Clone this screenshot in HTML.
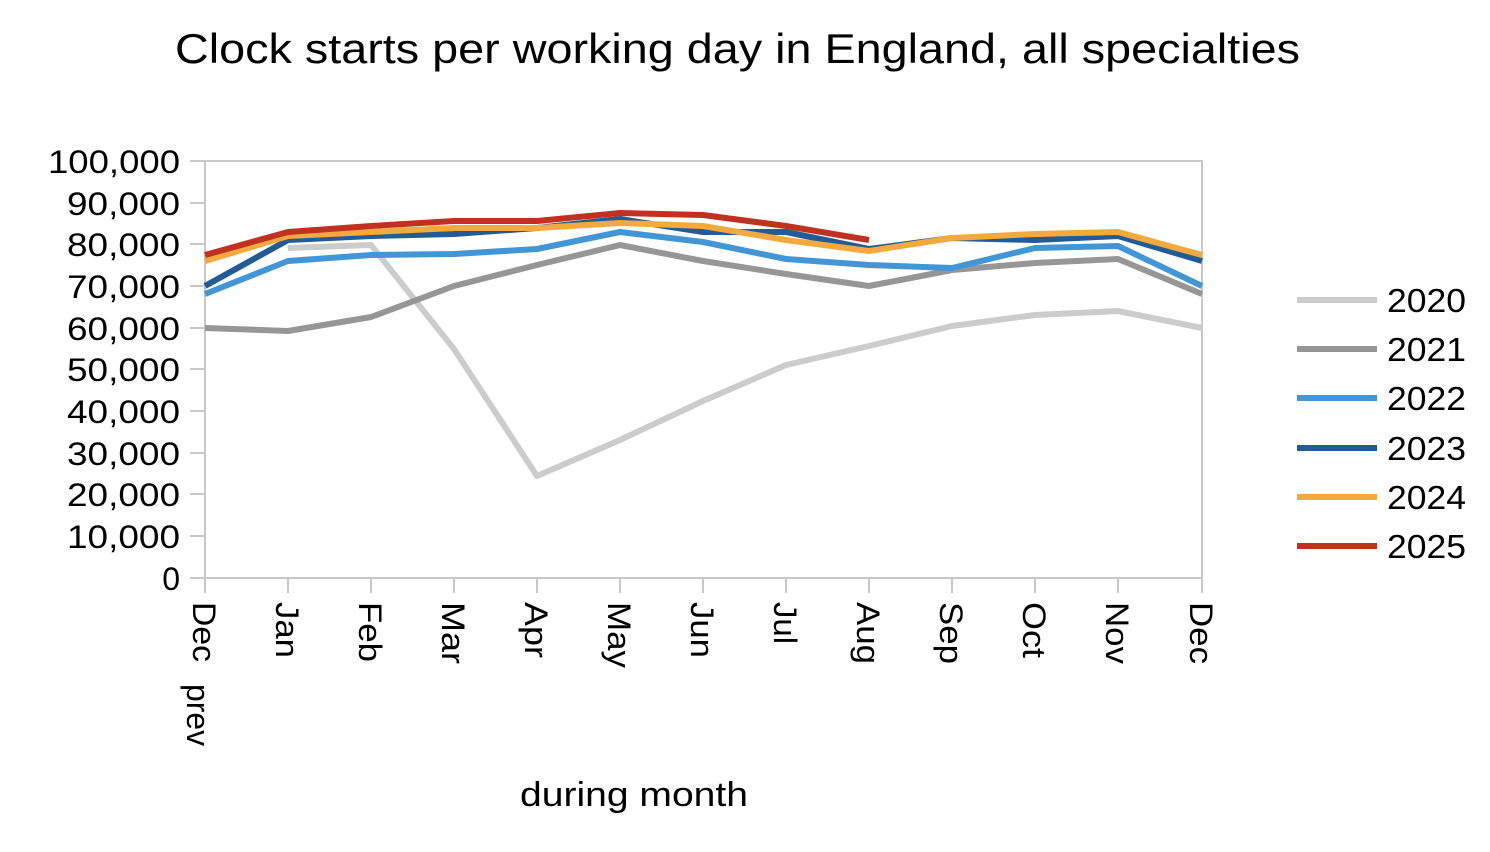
<!DOCTYPE html>
<html><head><meta charset="utf-8"><style>
html,body{margin:0;padding:0;background:#fff;}
svg{display:block;font-family:"Liberation Sans",Arial,sans-serif;}
</style></head><body>
<svg width="1490" height="852" viewBox="0 0 1490 852" xmlns="http://www.w3.org/2000/svg">
<rect width="1490" height="852" fill="#fff"/>
<text x="175" y="63" font-size="42" textLength="1125" lengthAdjust="spacingAndGlyphs" fill="#000">Clock starts per working day in England, all specialties</text>
<g stroke="#c8c8c8" stroke-width="2" fill="none">
<rect x="205" y="161" width="997" height="417"/>
<path d="M190 161H205M190 203H205M190 244H205M190 286H205M190 328H205M190 369H205M190 411H205M190 453H205M190 494H205M190 536H205M190 578H205"/>
<path d="M205 578V593M288 578V593M371 578V593M454 578V593M537 578V593M620 578V593M703 578V593M786 578V593M869 578V593M952 578V593M1035 578V593M1118 578V593M1202 578V593"/>
</g>
<g font-size="32" text-anchor="end" fill="#000">
<text x="180" y="173" textLength="132" lengthAdjust="spacingAndGlyphs">100,000</text>
<text x="180" y="215" textLength="113" lengthAdjust="spacingAndGlyphs">90,000</text>
<text x="180" y="256" textLength="113" lengthAdjust="spacingAndGlyphs">80,000</text>
<text x="180" y="298" textLength="113" lengthAdjust="spacingAndGlyphs">70,000</text>
<text x="180" y="340" textLength="113" lengthAdjust="spacingAndGlyphs">60,000</text>
<text x="180" y="381" textLength="113" lengthAdjust="spacingAndGlyphs">50,000</text>
<text x="180" y="423" textLength="113" lengthAdjust="spacingAndGlyphs">40,000</text>
<text x="180" y="465" textLength="113" lengthAdjust="spacingAndGlyphs">30,000</text>
<text x="180" y="506" textLength="113" lengthAdjust="spacingAndGlyphs">20,000</text>
<text x="180" y="548" textLength="113" lengthAdjust="spacingAndGlyphs">10,000</text>
<text x="180" y="590">0</text>
</g>
<g font-size="32" fill="#000">
<text transform="translate(193,602) rotate(90)" textLength="60" lengthAdjust="spacingAndGlyphs">Dec</text>
<text transform="translate(187,684) rotate(90)" textLength="62" lengthAdjust="spacingAndGlyphs">prev</text>
<text transform="translate(276,602) rotate(90)" textLength="56" lengthAdjust="spacingAndGlyphs">Jan</text>
<text transform="translate(359,602) rotate(90)" textLength="60" lengthAdjust="spacingAndGlyphs">Feb</text>
<text transform="translate(442,602) rotate(90)" textLength="62" lengthAdjust="spacingAndGlyphs">Mar</text>
<text transform="translate(525,602) rotate(90)" textLength="56" lengthAdjust="spacingAndGlyphs">Apr</text>
<text transform="translate(608,602) rotate(90)" textLength="66" lengthAdjust="spacingAndGlyphs">May</text>
<text transform="translate(691,602) rotate(90)" textLength="56" lengthAdjust="spacingAndGlyphs">Jun</text>
<text transform="translate(774,602) rotate(90)" textLength="42" lengthAdjust="spacingAndGlyphs">Jul</text>
<text transform="translate(857,602) rotate(90)" textLength="62" lengthAdjust="spacingAndGlyphs">Aug</text>
<text transform="translate(940,602) rotate(90)" textLength="62" lengthAdjust="spacingAndGlyphs">Sep</text>
<text transform="translate(1023,602) rotate(90)" textLength="56" lengthAdjust="spacingAndGlyphs">Oct</text>
<text transform="translate(1106,602) rotate(90)" textLength="62" lengthAdjust="spacingAndGlyphs">Nov</text>
<text transform="translate(1190,602) rotate(90)" textLength="62" lengthAdjust="spacingAndGlyphs">Dec</text>
</g>
<text x="520" y="806" font-size="34" textLength="228" lengthAdjust="spacingAndGlyphs" fill="#000">during month</text>
<g fill="none" stroke-width="6" stroke-linejoin="round">
<polyline stroke="#cccccc" points="288,248 371,245 454,349 537,476 620,440 703,401 786,365 869,346 952,326 1035,315 1118,311 1202,328"/>
<polyline stroke="#969696" points="205,328 288,331 371,317 454,286 537,265 620,245 703,261 786,274 869,286 952,270 1035,263 1118,259 1202,294"/>
<polyline stroke="#4296d6" points="205,294 288,261 371,255 454,254 537,249 620,232 703,242 786,259 869,265 952,268 1035,248 1118,246 1202,286"/>
<polyline stroke="#215b98" points="205,286 288,240 371,236 454,234 537,228 620,219 703,232 786,232 869,249 952,238 1035,240 1118,236 1202,261"/>
<polyline stroke="#f4a93c" points="205,261 288,236 371,232 454,228 537,228 620,223 703,226 786,240 869,251 952,238 1035,234 1118,232 1202,255"/>
<polyline stroke="#c0321f" points="205,255 288,232 371,226 454,221 537,221 620,213 703,215 786,226 869,240"/>
</g>
<g stroke-width="6">
<line x1="1297" y1="300" x2="1377" y2="300" stroke="#cccccc"/>
<line x1="1297" y1="349" x2="1377" y2="349" stroke="#969696"/>
<line x1="1297" y1="398" x2="1377" y2="398" stroke="#4296d6"/>
<line x1="1297" y1="448" x2="1377" y2="448" stroke="#215b98"/>
<line x1="1297" y1="497" x2="1377" y2="497" stroke="#f4a93c"/>
<line x1="1297" y1="546" x2="1377" y2="546" stroke="#c0321f"/>
</g>
<g font-size="33" fill="#000">
<text x="1387" y="312" textLength="79" lengthAdjust="spacingAndGlyphs">2020</text>
<text x="1387" y="361" textLength="79" lengthAdjust="spacingAndGlyphs">2021</text>
<text x="1387" y="410" textLength="79" lengthAdjust="spacingAndGlyphs">2022</text>
<text x="1387" y="460" textLength="79" lengthAdjust="spacingAndGlyphs">2023</text>
<text x="1387" y="509" textLength="79" lengthAdjust="spacingAndGlyphs">2024</text>
<text x="1387" y="558" textLength="79" lengthAdjust="spacingAndGlyphs">2025</text>
</g>
</svg>
</body></html>
